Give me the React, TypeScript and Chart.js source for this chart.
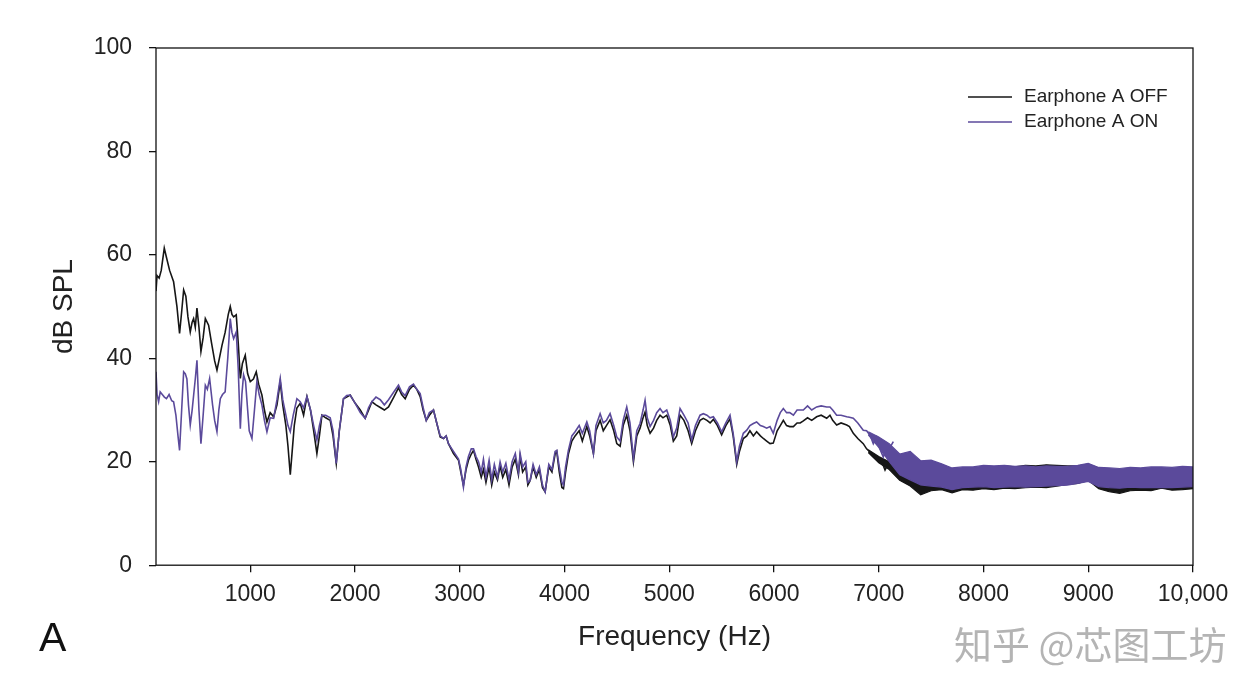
import { useEffect, useRef } from 'react';
import { Chart, registerables } from 'chart.js';

Chart.register(...registerables);

// Earphone A OFF (Hz / dB SPL)
const offFreq = [
  100, 110, 130, 150, 179, 200, 230, 268, 300, 325, 345, 364, 385, 405, 427, 445, 459, 475, 491, 510,
  529, 550, 571, 602, 630, 660, 682, 705, 730, 760, 790, 809, 825, 841, 866, 885, 905, 925, 952, 975,
  1000, 1030, 1057, 1080, 1111, 1135, 1159, 1190, 1223, 1255, 1286, 1310, 1340, 1360, 1382, 1400, 1420, 1445, 1477, 1509,
  1541, 1575, 1605, 1636, 1660, 1684, 1720, 1763, 1790, 1821, 1850, 1890, 1920, 1954, 1980, 2002, 2050, 2097, 2130, 2161,
  2200, 2241, 2280, 2320, 2370, 2415, 2445, 2479, 2520, 2558, 2590, 2622, 2650, 2680, 2710, 2749, 2780, 2813, 2845, 2870,
  2892, 2940, 2988, 3010, 3035, 3060, 3083, 3110, 3131, 3155, 3179, 3205, 3226, 3250, 3280, 3305, 3330, 3360, 3385, 3410,
  3440, 3470, 3500, 3530, 3560, 3576, 3600, 3630, 3650, 3672, 3700, 3730, 3760, 3790, 3815, 3850, 3880, 3910, 3926, 3950,
  3975, 3990, 4010, 4037, 4070, 4101, 4140, 4170, 4213, 4240, 4276, 4300, 4340, 4370, 4400, 4435, 4470, 4499, 4531, 4560,
  4594, 4625, 4658, 4690, 4721, 4750, 4769, 4790, 4817, 4850, 4880, 4912, 4940, 4976, 5010, 5039, 5071, 5103, 5140, 5180,
  5214, 5250, 5294, 5325, 5360, 5390, 5421, 5460, 5500, 5540, 5580, 5610, 5644, 5670, 5707, 5740, 5770, 5803, 5834, 5870,
  5898, 5930, 5962, 5993, 6030, 6060, 6089, 6120, 6150, 6185, 6220, 6250, 6280, 6320, 6360, 6407, 6450, 6503, 6534, 6560,
  6598, 6640, 6694, 6720, 6757, 6800, 6852, 6884, 6920, 6948, 6980, 7010, 7043, 7060, 7100, 7139,
];
const offDb = [
  53, 56, 55.5, 57, 61.3, 59.5, 57, 54.8, 50, 44.8, 49, 53.2, 52, 48, 45.1, 47, 47.7, 46, 49.7, 46,
  41.3, 44, 47.7, 46.4, 43, 39.5, 37.7, 40, 42.5, 45, 48.5, 50, 48.5, 48, 48.4, 43, 36.1, 39, 40.6, 37,
  35.5, 36, 37.4, 35, 32.9, 30, 27.7, 29.5, 28.7, 31, 35.5, 31, 27, 23, 17.5, 22, 27, 30.4, 31.3, 29,
  32.6, 30, 26, 21.6, 25, 29, 28.5, 28, 25, 19.7, 26, 32.2, 32.5, 32.9, 32, 31.3, 30, 28.4, 30, 31.6,
  31, 30.5, 30, 30.6, 32.5, 34.3, 33, 32.2, 34, 34.8, 34, 32.6, 30, 28, 29, 30, 27.5, 24.8, 24.5, 25,
  23.5, 21.6, 20.3, 18, 15.5, 18.5, 20.3, 21.5, 22.2, 20.5, 19, 17, 18.5, 16, 19, 15.5, 18, 16.5, 19.2, 17,
  18.5, 15.5, 19, 20.5, 17.5, 21, 18, 19, 15.5, 16.4, 19, 17, 18.5, 15, 14.2, 19, 18, 21.5, 22, 18,
  15, 14.8, 18, 21.5, 24, 25, 26, 24, 26.8, 25, 21.6, 26, 28, 26, 27, 28.1, 26, 23.5, 23, 27,
  29, 26, 20, 25, 26.5, 28.5, 29.6, 27, 25.5, 26.5, 28, 29, 28.5, 29, 27, 24, 25, 29, 28, 26,
  23.5, 26, 28, 28.4, 28, 27.5, 28.2, 27, 25.2, 27, 28.3, 25, 19.5, 22, 24.5, 25, 26, 25, 25.8, 25,
  24.5, 24, 23.5, 23.6, 26, 27, 28, 27, 26.8, 26.8, 27.5, 27.5, 27.9, 28.5, 28, 28.7, 29, 28.4, 29, 28,
  27.1, 27.5, 27.1, 26.8, 25.5, 24.5, 23.5, 22.5, 21.8, 21.3, 21, 20, 19.3, 18.4, 20, 19,
];

// Earphone A ON
const onFreq = [
  100, 110, 125, 140, 160, 180, 200, 225, 250, 268, 290, 310, 325, 345, 364, 380, 395, 410, 427, 445,
  460, 475, 491, 510, 529, 550, 571, 590, 612, 640, 660, 682, 700, 714, 735, 760, 785, 809, 825, 841,
  866, 885, 905, 920, 936, 955, 975, 990, 1016, 1040, 1063, 1085, 1111, 1135, 1159, 1190, 1223, 1255, 1286, 1310,
  1340, 1360, 1382, 1410, 1445, 1477, 1509, 1541, 1575, 1605, 1636, 1660, 1684, 1720, 1763, 1790, 1821, 1850, 1890, 1920,
  1954, 1980, 2002, 2050, 2097, 2130, 2161, 2200, 2241, 2280, 2320, 2370, 2415, 2445, 2479, 2520, 2558, 2590, 2622, 2650,
  2680, 2710, 2749, 2780, 2813, 2845, 2870, 2892, 2940, 2988, 3010, 3035, 3060, 3083, 3110, 3131, 3155, 3179, 3205, 3226,
  3250, 3280, 3305, 3330, 3360, 3385, 3410, 3440, 3470, 3500, 3530, 3560, 3576, 3600, 3630, 3650, 3672, 3700, 3730, 3760,
  3790, 3815, 3850, 3880, 3910, 3926, 3950, 3975, 3990, 4010, 4037, 4070, 4101, 4140, 4170, 4213, 4240, 4276, 4300, 4340,
  4370, 4400, 4435, 4470, 4499, 4531, 4560, 4594, 4625, 4658, 4690, 4721, 4750, 4769, 4790, 4817, 4850, 4880, 4912, 4940,
  4976, 5010, 5039, 5071, 5103, 5140, 5180, 5214, 5250, 5294, 5325, 5360, 5390, 5421, 5460, 5500, 5540, 5580, 5610, 5644,
  5670, 5707, 5740, 5770, 5803, 5834, 5870, 5898, 5930, 5962, 5993, 6030, 6060, 6089, 6120, 6150, 6185, 6220, 6250, 6280,
  6320, 6360, 6407, 6450, 6503, 6534, 6560, 6598, 6640, 6694, 6720, 6757, 6800, 6852, 6884, 6920, 6948, 6980, 7010, 7043,
  7060, 7100, 7139,
];
const onDb = [
  37.4, 33, 31.6, 33.5, 33, 32.5, 32.2, 33, 31.8, 31.6, 29, 25, 22.2, 30, 37.4, 37, 36, 31, 27.1, 30,
  33, 36, 39.6, 30, 23.5, 29, 34.8, 34, 36.1, 31, 28, 25.8, 30, 32.2, 33, 33.5, 40, 47.7, 45, 43.8,
  45.1, 38, 26.4, 33, 36.8, 35.5, 30, 26, 24.5, 30, 35.5, 33, 31, 28, 25.8, 28.5, 28.4, 32, 36.1, 32,
  29, 27, 25.8, 29, 32.2, 31.6, 30.4, 32.6, 30, 27, 24.2, 27, 29, 29, 28.5, 26, 19.7, 26, 32.2, 32.8,
  32.9, 32, 31.3, 29.5, 28.4, 30.5, 31.6, 32.5, 32, 31, 32, 33.5, 34.8, 33.5, 32.8, 34.5, 35, 34, 33.2, 30.5,
  28, 29.5, 30, 27.5, 25, 24.5, 25, 23.5, 22, 20.5, 18.5, 15.1, 19, 21, 22.5, 22.5, 21, 20, 18, 20.5,
  17, 20.3, 16.5, 19.5, 17, 20, 18, 19.7, 16.5, 20, 21.6, 18, 21.6, 19, 20, 16, 16.4, 19.5, 17.5, 19,
  15.5, 14.2, 19.5, 18.5, 22, 22.2, 19, 16, 15.5, 19, 22.2, 25, 25.8, 27, 25.5, 27.7, 26, 21.6, 27, 29.3,
  27.5, 28, 29.3, 27, 24.8, 24, 28, 30.6, 27.5, 20.6, 26, 27.4, 30, 31.9, 28.5, 26.8, 28, 29.5, 30.3, 29.5,
  30, 28, 24.8, 26.5, 30.3, 29, 27.5, 24.2, 27, 29, 29.3, 29, 28.5, 28.7, 27.5, 25.8, 27.5, 29, 25.5, 20,
  23, 25.5, 26.1, 27, 27.4, 27.7, 27, 26.8, 26.5, 26.8, 25.5, 28, 29.5, 30.3, 29.5, 29.5, 29, 30, 30, 30,
  30.8, 30, 30.6, 30.8, 30.6, 30.6, 30, 29, 29, 28.7, 28.6, 28.4, 27.5, 26.1, 26, 25, 23.5, 24.8, 22.5, 20.9,
  21.9, 22.5, 23.9,
];

// high-frequency part: the traces swing fast, read as upper/lower edge
const bandFreq = [
  6900, 7000, 7100, 7200, 7300, 7400, 7500, 7600, 7700, 7800, 7900, 8000, 8100, 8200, 8300, 8400, 8500, 8600,
  8700, 8800, 8900, 9000, 9100, 9200, 9300, 9400, 9500, 9600, 9700, 9800, 9900, 10000,
];
const offBandHigh = [
  22.3, 21, 20, 19, 18.5, 18.3, 18.2, 17.8, 18, 18.2, 18.5, 18.7, 18.8, 19.2, 19, 19.3, 19.2, 19.4,
  19.3, 19.2, 19.2, 19.5, 18.8, 18.5, 18.4, 18.2, 18.3, 18.5, 18.4, 18.3, 18.5, 18.4,
];
const offBandLow = [
  21.8, 19.8, 18.5, 16.4, 15.3, 13.6, 14.4, 14.6, 14, 14.6, 14.5, 14.8, 14.6, 14.9, 14.8, 15, 15.1, 15,
  15.3, 15.6, 15.8, 16.4, 14.8, 14.2, 13.9, 14.4, 14.5, 14.4, 14.9, 14.5, 14.6, 14.8,
];
const onBandHigh = [
  25.8, 24.8, 23.5, 21.5, 22, 20.2, 20.3, 19.6, 18.8, 19, 19, 19.3, 19.2, 19.3, 19.1, 19.2, 19, 19.2,
  19.1, 19.1, 19.3, 19.7, 18.9, 18.8, 18.7, 18.9, 18.8, 19, 19, 18.9, 19.1, 19,
];
const onBandLow = [
  25.2, 22.8, 20, 17.5, 16.5, 15.5, 15.3, 15.1, 14.6, 15, 15.1, 15.2, 15, 15.1, 15.2, 15.1, 15.2, 15.3,
  15.4, 15.5, 15.8, 16.2, 15.2, 15, 14.9, 15.1, 15, 15, 15, 15, 15.1, 15.2,
];

const xTickValues = [1000, 2000, 3000, 4000, 5000, 6000, 7000, 8000, 9000, 10000];
const seriesLabels = ['Earphone A OFF', 'Earphone A ON'];
const seriesColors = ['#161616', '#5b4a9b'];

const FONT = "'Liberation Sans', Arial, sans-serif";
const INK = '#222222';

const toPoints = (xs: number[], ys: number[]) => xs.map((x, i) => ({ x, y: ys[i] }));

// box around the plot + legend in the top right corner
const frameLegendPlugin = {
  id: 'frameLegend',
  afterDraw(chart: Chart) {
    const { ctx, chartArea } = chart;
    const { left, top, right, bottom } = chartArea;
    ctx.save();
    ctx.strokeStyle = '#111';
    ctx.lineWidth = 1.3;
    ctx.strokeRect(left, top, right - left, bottom - top);

    ctx.font = `19px ${FONT}`;
    ctx.textBaseline = 'middle';
    ctx.textAlign = 'left';
    seriesLabels.forEach((label, i) => {
      const y = top + 49 + i * 25;
      ctx.strokeStyle = seriesColors[i];
      ctx.lineWidth = 1.6;
      ctx.beginPath();
      ctx.moveTo(right - 225, y);
      ctx.lineTo(right - 181, y);
      ctx.stroke();
      ctx.fillStyle = INK;
      ctx.fillText(label, right - 169, y);
    });
    ctx.restore();
  },
};

export default function App() {
  const canvasRef = useRef<HTMLCanvasElement | null>(null);
  const chartRef = useRef<Chart | null>(null);

  useEffect(() => {
    if (!canvasRef.current) return;
    if (chartRef.current) chartRef.current.destroy();

    const tickFont = { family: FONT, size: 23 };
    const titleFont = { family: FONT, size: 28 };
    const GRID = {
      display: true,
      drawOnChartArea: false,
      drawTicks: true,
      tickLength: 7,
      color: '#111',
      lineWidth: 1.3,
    };

    const line = (label: string, data: { x: number; y: number }[], color: string, order: number, extra = {}) => ({
      label,
      data,
      borderColor: color,
      backgroundColor: color,
      borderWidth: 1.6,
      pointRadius: 0,
      tension: 0,
      fill: false,
      order,
      ...extra,
    });

    chartRef.current = new Chart(canvasRef.current, {
      type: 'line',
      data: {
        datasets: [
          line(seriesLabels[0], toPoints(offFreq, offDb), seriesColors[0], 3),
          line(seriesLabels[1], toPoints(onFreq, onDb), seriesColors[1], 0),
          line('off-high', toPoints(bandFreq, offBandHigh), seriesColors[0], 4, { fill: '+1', borderWidth: 1.2 }),
          line('off-low', toPoints(bandFreq, offBandLow), seriesColors[0], 5, { borderWidth: 1.2 }),
          line('on-high', toPoints(bandFreq, onBandHigh), seriesColors[1], 1, { fill: '+1', borderWidth: 1.2 }),
          line('on-low', toPoints(bandFreq, onBandLow), seriesColors[1], 2, { borderWidth: 1.2 }),
        ],
      },
      options: {
        animation: false,
        responsive: true,
        maintainAspectRatio: false,
        layout: { padding: { left: 47, top: 48, right: 63, bottom: 41 } },
        scales: {
          x: {
            type: 'linear',
            min: 100,
            max: 10000,
            afterBuildTicks: (axis: any) => {
              axis.ticks = xTickValues.map((value) => ({ value }));
            },
            afterFit: (axis: any) => {
              axis.height = 88.8;
            },
            ticks: {
              font: tickFont,
              color: INK,
              padding: 9,
              maxRotation: 0,
              autoSkip: false,
              callback: (v: any) => (Number(v) === 10000 ? '10,000' : String(v)),
            },
            grid: GRID,
            border: { display: false },
            title: { display: true, text: 'Frequency (Hz)', font: titleFont, color: INK, padding: 0 },
          },
          y: {
            min: 0,
            max: 100,
            afterFit: (axis: any) => {
              axis.width = 109;
            },
            ticks: { stepSize: 20, font: tickFont, color: INK, padding: 17 },
            grid: GRID,
            border: { display: false },
            title: { display: true, text: 'dB SPL', font: titleFont, color: INK, padding: 0 },
          },
        },
        plugins: {
          legend: { display: false },
          tooltip: { enabled: false },
        },
      },
      plugins: [frameLegendPlugin],
    } as any);

    return () => {
      if (chartRef.current) {
        chartRef.current.destroy();
        chartRef.current = null;
      }
    };
  }, []);

  return (
    <div style={{ position: 'absolute', left: 0, top: 0, width: 1256, height: 695, background: '#fff' }}>
      <canvas ref={canvasRef} aria-label="Earphone A OFF / ON frequency response" />
      <div
        style={{
          position: 'absolute',
          left: 39,
          top: 617,
          fontFamily: FONT,
          fontSize: 41,
          lineHeight: 1,
          color: '#111',
        }}
      >
        A
      </div>
      <div
        style={{
          position: 'absolute',
          left: 954,
          top: 620,
          fontFamily: "'Noto Sans CJK SC', sans-serif",
          fontSize: 38,
          lineHeight: 1.2,
          color: '#b4b4b4',
          whiteSpace: 'nowrap',
        }}
      >
        知乎 @芯图工坊
      </div>
    </div>
  );
}
